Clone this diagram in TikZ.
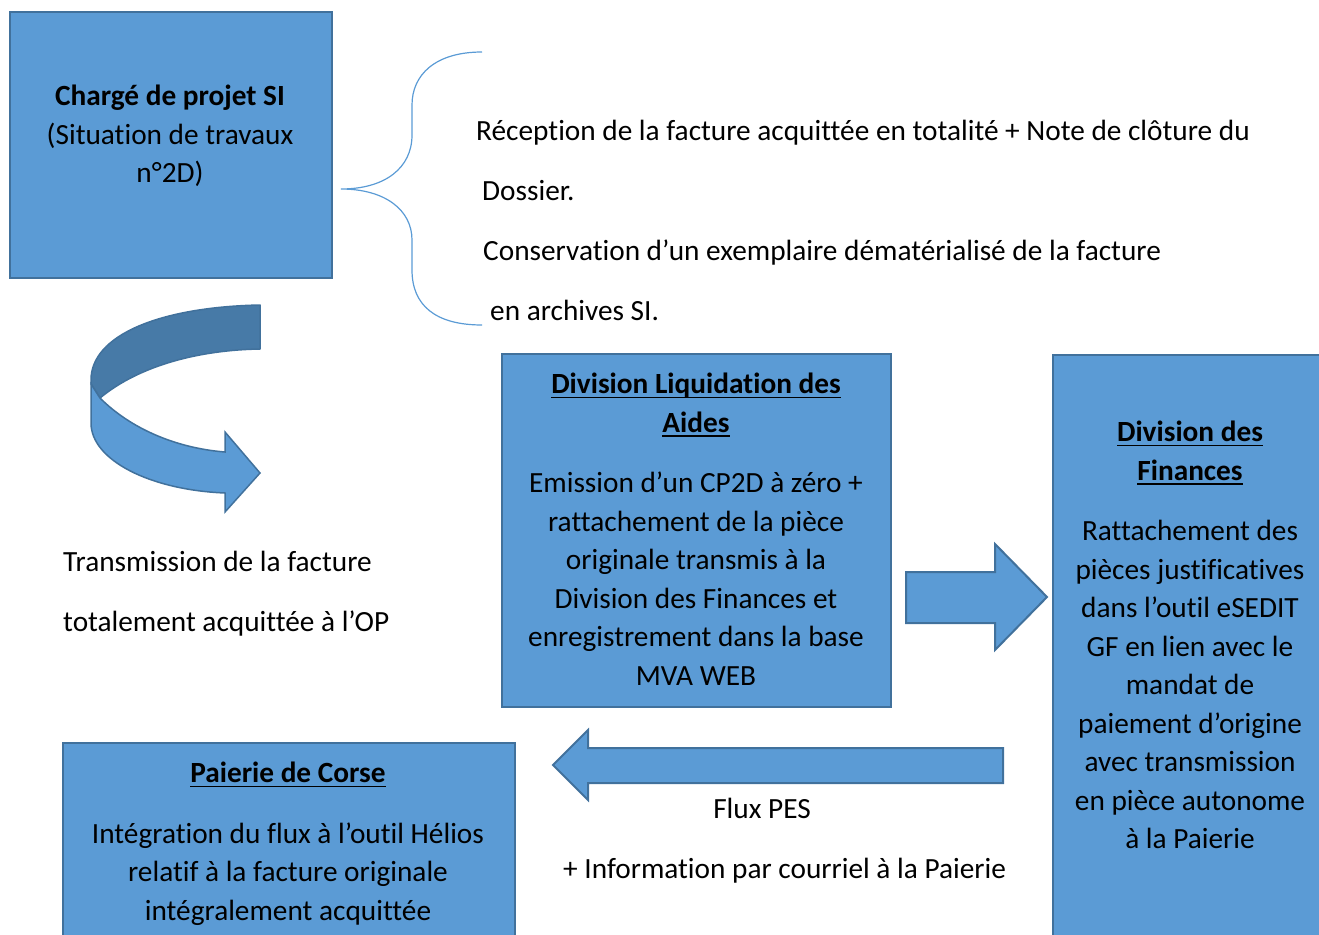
\documentclass[tikz,border=0pt]{standalone}
\usepackage{fontspec}
\setmainfont[Ligatures=NoCommon]{Carlito}
\usetikzlibrary{positioning}

\definecolor{boxblue}{RGB}{91,155,213}
\definecolor{edgeblue}{RGB}{65,113,156}
\definecolor{bandblue}{RGB}{71,122,167}

% bold heading with an underline at a fixed depth
\newcommand{\uhead}[1]{\textbf{\setbox0\hbox{#1}\rlap{\rule[-4.5pt]{\wd0}{1.6pt}}\box0}}

\tikzset{
  box/.style={draw=edgeblue, fill=boxblue, line width=2pt, rectangle, inner sep=0pt, anchor=north west},
  boxtext/.style={align=center, anchor=north, inner sep=0pt, font=\fontsize{29.3}{38.5}\selectfont},
  plain/.style={anchor=base west, inner sep=0pt, font=\fontsize{29.3}{35}\selectfont},
  bigarrow/.style={draw=edgeblue, fill=boxblue, line width=2pt, line join=miter},
}

\begin{document}
\begin{tikzpicture}[x=1pt, y=-1pt]
\useasboundingbox (0,0) rectangle (1319,934);
\clip (0,0) rectangle (1319,934);

% boxes
\node[box, minimum width=322pt, minimum height=266pt] (chef) at (9,11) {};
\node[box, minimum width=389pt, minimum height=353pt] (liq) at (501,353) {};
\node[box, minimum width=268pt, minimum height=620pt] (fin) at (1052,354) {};
\node[box, minimum width=452pt, minimum height=240pt] (paie) at (62,742) {};

% texts of the boxes
\node[boxtext] (chefTxt) at (170,85) {\textbf{Chargé de projet SI}\\(Situation de travaux\\n°2D)};
\node[boxtext] (liqTxt) at (696,373) {\uhead{Division Liquidation des}\\\uhead{Aides}\\[22pt]
  Emission d’un CP2D à zéro +\\rattachement de la pièce\\originale transmis à la\\Division des Finances et\\enregistrement dans la base\\MVA WEB};
\node[boxtext] (finTxt) at (1190,421) {\uhead{Division des}\\\uhead{Finances}\\[22pt]
  Rattachement des\\pièces justificatives\\dans l’outil eSEDIT\\GF en lien avec le\\mandat de\\paiement d’origine\\avec transmission\\en pièce autonome\\à la Paierie};
\node[boxtext] (paieTxt) at (288,762) {\uhead{Paierie de Corse}\\[22pt]
  Intégration du flux à l’outil Hélios\\relatif à la facture originale\\intégralement acquittée};

% brace and its text
\draw[boxblue, line width=1.2pt] (482,52) .. controls (435,52) and (412,75) .. (412,105) -- (412,135)
  .. controls (412,168) and (385,189) .. (341,189)
  .. controls (385,189) and (412,210) .. (412,240) -- (412,270)
  .. controls (412,305) and (435,325) .. (482,325);
\node[plain] (recep) at (476,140) {Réception de la facture acquittée en totalité + Note de clôture du};
\node[plain] (dossier) at (482,200) {Dossier.};
\node[plain] (conserv) at (483,260) {Conservation d’un exemplaire dématérialisé de la facture};
\node[plain] (archiv) at (490,320) {en archives SI.};

% curved arrow
\filldraw[draw=edgeblue, fill=bandblue, line width=1.5pt, line join=round]
  (260,305) .. controls (160,307) and (91,335) .. (91,380) -- (91,384) -- (100,398)
  .. controls (140,365) and (200,350) .. (260,349) -- cycle;
\filldraw[draw=edgeblue, fill=boxblue, line width=1.5pt, line join=miter]
  (91,384) -- (100,398) .. controls (130,428) and (175,448) .. (225,452) -- (225,432) -- (260,473)
  -- (225,512) -- (225,493) .. controls (150,490) and (91,460) .. (91,423) -- cycle;
\node[plain] (transm) at (63,571) {Transmission de la facture};
\node[plain] (totale) at (63,631) {totalement acquittée à l’OP};

% block arrows
\filldraw[bigarrow] (906,572) -- (995,572) -- (995,544) -- (1047,597) -- (995,650) -- (995,623) -- (906,623) -- cycle;
\filldraw[bigarrow] (1003,748) -- (588,748) -- (588,730) -- (553,765) -- (588,800) -- (588,783) -- (1003,783) -- cycle;
\node[plain, anchor=base] (flux) at (762,818) {Flux PES};
\node[plain] (info) at (563,878) {+ Information par courriel à la Paierie};
\end{tikzpicture}
\end{document}
